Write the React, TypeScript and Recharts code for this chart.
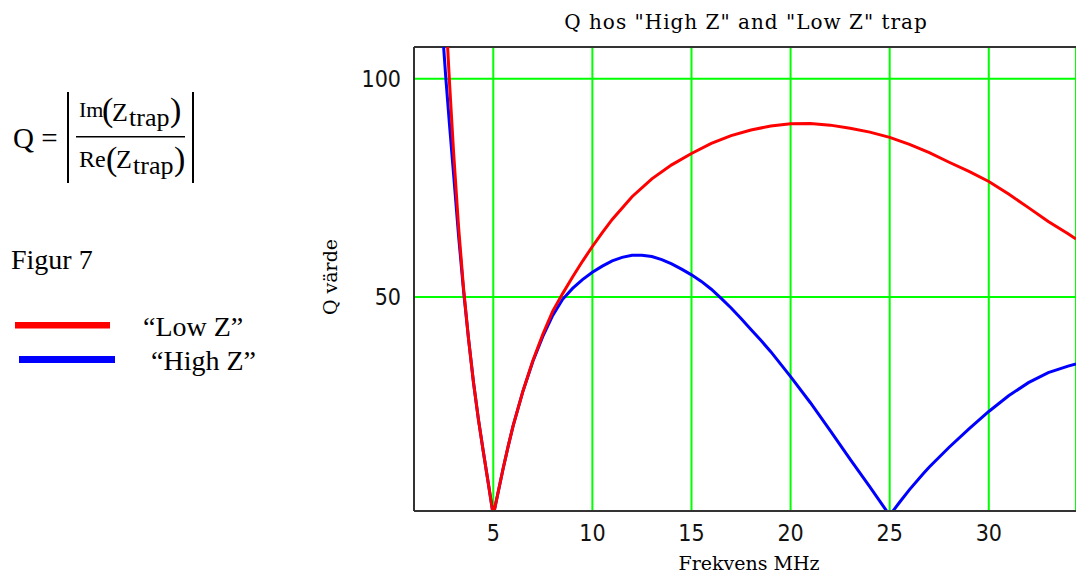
import { LineChart, Line, XAxis, YAxis, CartesianGrid, ReferenceLine } from "recharts";

// "Low Z" trap (red)
const lowZFreq = [
  2.5, 2.6, 2.7, 2.8, 3.0, 3.25, 3.5, 3.75, 4.0, 4.25, 4.5, 4.75, 5.0, 5.25, 5.5, 5.75, 6.0, 6.5, 7.0, 7.5,
  8.0, 8.5, 9.0, 9.5, 10, 10.5, 11, 12, 13, 14, 15, 16, 17, 18, 19, 20, 21, 22, 23, 24, 25, 26, 27, 28, 29,
  30, 31, 32, 33, 34, 34.4,
];
const lowZQ = [
  128, 117, 107, 98.5, 83, 66, 52, 40.5, 30.5, 22, 14.5, 7.3, 0, 5.4, 10.8, 15.8, 20.5, 28.5, 35.5, 41.5,
  46.8, 50.8, 54.6, 58.2, 61.6, 64.8, 67.8, 73, 77.1, 80.3, 82.9, 85.2, 87, 88.3, 89.2, 89.7, 89.8, 89.4,
  88.7, 87.8, 86.6, 85.0, 83.1, 80.9, 78.8, 76.5, 73.6, 70.5, 67.3, 64.5, 63.3,
];

// "High Z" trap (blue)
const highZFreq = [
  2.4, 2.5, 2.6, 2.8, 3.0, 3.25, 3.5, 3.75, 4.0, 4.25, 4.5, 4.75, 5.0, 5.25, 5.5, 5.75, 6.0, 6.5, 7.0, 7.5,
  8.0, 8.5, 9.0, 9.5, 10, 10.5, 11, 11.5, 12, 12.5, 13, 13.5, 14, 14.5, 15, 15.5, 16, 16.5, 17, 17.5, 18,
  18.5, 19, 20, 21, 22, 23, 24, 25, 25.5, 26, 26.7, 27, 28, 29, 30, 31, 32, 33, 34, 34.4,
];
const highZQ = [
  115, 107, 100.5, 89, 78, 64, 51.5, 40.5, 30.5, 22, 14.5, 7.3, 0, 5.4, 10.8, 15.8, 20.5, 28.5, 35.3, 41,
  45.8, 49.5, 52.0, 54.0, 55.7, 57.1, 58.3, 59.1, 59.6, 59.6, 59.3, 58.6, 57.6, 56.4, 55.1, 53.6, 51.8,
  49.7, 47.5, 45.1, 42.6, 40.1, 37.5, 31.8, 25.8, 19.4, 12.9, 6.5, 0, 3.0, 5.9, 9.6, 11.1, 15.6, 19.8,
  23.8, 27.4, 30.4, 32.7, 34.2, 34.7,
];

const xTicks = [5, 10, 15, 20, 25, 30];
const yTicks = [50, 100];
const xDomain = [1, 34.4];
const yDomain = [1, 107.3];

const lowZData = lowZFreq.map((f, i) => ({ f, q: lowZQ[i] }));
const highZData = highZFreq.map((f, i) => ({ f, q: highZQ[i] }));

const serif = "'Liberation Serif', 'Times New Roman', serif";
const plotSerif = "'DejaVu Serif', serif";
const tickFont = "'DejaVu Sans Condensed', 'DejaVu Sans', sans-serif";
const frame = { stroke: "#333", strokeWidth: 2 };

export default function App() {
  return (
    <div style={{ position: "absolute", left: 0, top: 0, width: 1076, height: 576, background: "#fff" }}>
      <LineChart width={1076} height={576} margin={{ top: 47, right: 0, bottom: 35, left: 354 }}>
        <CartesianGrid stroke="#00ff00" strokeWidth={2} />
        <XAxis
          type="number"
          dataKey="f"
          domain={xDomain}
          ticks={xTicks}
          allowDataOverflow
          tickLine={false}
          axisLine={frame}
          tickMargin={8}
          tick={{ fill: "#111", fontSize: 23, fontFamily: tickFont, fontStretch: "condensed" }}
        />
        <YAxis
          type="number"
          dataKey="q"
          domain={yDomain}
          ticks={yTicks}
          allowDataOverflow
          width={60}
          tickLine={false}
          axisLine={frame}
          tickMargin={7}
          tick={{ fill: "#111", fontSize: 23, fontFamily: tickFont, fontStretch: "condensed" }}
        />
        <ReferenceLine y={yDomain[1]} {...frame} />
        <Line data={highZData} dataKey="q" type="linear" stroke="#0000ff" strokeWidth={3} dot={false} isAnimationActive={false} />
        <Line data={lowZData} dataKey="q" type="linear" stroke="#ff0000" strokeWidth={3} dot={false} isAnimationActive={false} />
      </LineChart>

      <svg width={1076} height={576} style={{ position: "absolute", left: 0, top: 0, pointerEvents: "none" }}>
        {/* plot texts */}
        <text x={746} y={29} textAnchor="middle" fontFamily={plotSerif} fontSize={20} letterSpacing={1}>
          Q hos "High Z" and "Low Z" trap
        </text>
        <text x={749} y={570} textAnchor="middle" fontFamily={plotSerif} fontSize={19}>
          Frekvens MHz
        </text>
        <text x={337} y={277} textAnchor="middle" fontFamily={plotSerif} fontSize={19} transform="rotate(-90 337 277)">
          Q värde
        </text>

        {/* formula */}
        <g fontFamily={serif} fill="#000">
          <text x={13} y={148} fontSize={29}>Q =</text>
          <rect x={67} y={92} width={2} height={91} />
          <rect x={192} y={92} width={2} height={91} />
          <rect x={76} y={136} width={109} height={1.5} />
          <text x={79} y={117} fontSize={22}>Im</text>
          <text x={102} y={121} fontSize={34}>(</text>
          <text x={112} y={121} fontSize={26}>Z</text>
          <text x={129} y={126} fontSize={26}>trap</text>
          <text x={170} y={121} fontSize={34}>)</text>
          <text x={79} y={167} fontSize={24}>Re</text>
          <text x={106} y={170} fontSize={34}>(</text>
          <text x={116} y={168} fontSize={26}>Z</text>
          <text x={133} y={174} fontSize={26}>trap</text>
          <text x={174} y={170} fontSize={34}>)</text>

          <text x={11} y={269} fontSize={28}>Figur 7</text>

          <rect x={15} y={322} width={95} height={6.5} fill="#ff0000" />
          <rect x={19} y={356} width={96} height={7} fill="#0000ff" />
          <text x={143} y={336} fontSize={28}>“Low Z”</text>
          <text x={151} y={370} fontSize={28}>“High Z”</text>
        </g>
      </svg>
    </div>
  );
}
